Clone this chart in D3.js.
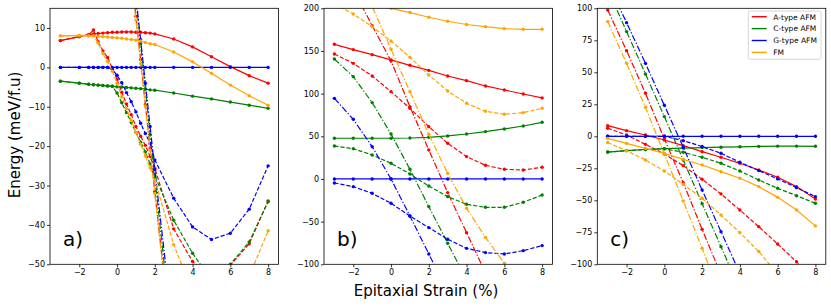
<!DOCTYPE html>
<html>
<head>
<meta charset="utf-8">
<script src="https://cdn.jsdelivr.net/npm/d3@7"></script>
<style>
  body { margin: 0; background: #fff; }
  text { font-family: "DejaVu Sans", sans-serif; }
</style>
</head>
<body>
<div id="chart"></div>
<script>
// strain values (x) for each panel
const strainA = [-3, -2, -1.5, -1.25, -1, -0.75, -0.5, -0.25, 0, 0.25, 0.5, 0.75, 1, 1.25, 1.5, 1.75, 2, 3, 4, 5, 6, 7, 8];
const strainBC = [-3, -2, -1, 0, 1, 2, 3, 4, 5, 6, 7, 8];

const orders = ['A-type AFM', 'C-type AFM', 'G-type AFM', 'FM'];
const colors = ['#ff0000', '#008000', '#0000ff', '#ffa500'];
const styles = ['solid', 'dashed', 'dashdot'];

// panel a) -- rows: A, C, G, FM
const aSolid = [
  [6.8, 7.8, 8.3, 8.5, 8.6, 8.7, 8.8, 8.9, 8.9, 9.0, 9.0, 9.0, 8.9, 8.9, 8.8, 8.7, 8.5, 7.2, 5.2, 2.7, 0.2, -2.1, -4.0],
  [-3.5, -4.0, -4.3, -4.4, -4.5, -4.6, -4.7, -4.8, -4.9, -5.0, -5.1, -5.2, -5.3, -5.4, -5.5, -5.7, -5.8, -6.5, -7.3, -8.0, -8.8, -9.6, -10.4],
  [0, 0, 0, 0, 0, 0, 0, 0, 0, 0, 0, 0, 0, 0, 0, 0, 0, 0, 0, 0, 0, 0, 0],
  [8.0, 8.1, 8.0, 8.0, 7.9, 7.8, 7.7, 7.6, 7.5, 7.4, 7.2, 7.1, 6.9, 6.7, 6.3, 6.0, 5.8, 3.9, 1.4, -1.5, -4.5, -7.2, -9.6]
];
const aDashed = [
  [6.8, 7.8, 8.3, 9.5, 6.5, 4.2, 2.5, -0.2, -3.0, -6.3, -9.3, -12, -15, -17.5, -19.8, -22.6, -25.6, -41.0, -49.3, -53.5, -50.2, -44.8, -33.9],
  [-3.5, -4.0, -4.3, -4.4, -4.5, -4.6, -4.7, -4.8, -6.5, -9, -11.5, -14, -16.5, -19, -21.5, -24.5, -27.5, -38.8, -47.2, -54, -50, -44.3, -34.1],
  [0, 0, 0, 0, 0, 0, 0, -0.5, -2.0, -3.9, -6.4, -8.7, -11.3, -14.2, -16.8, -19.3, -23.5, -33.2, -40.5, -43.7, -42.1, -36, -25],
  [8.0, 8.1, 8.0, 8.0, 6.2, 3.5, 1.5, -1.0, -4.0, -7.5, -10.5, -13.5, -16.5, -19.5, -22.5, -25.5, -28.5, -45, -57, -62, -60, -53, -41.5]
];
const aDashdot = [
  [null, null, null, null, null, null, null, null, null, null, null, 24, 13, 2, -9.5, -20.5, -31.5, -75, null, null, null, null, null],
  [null, null, null, null, null, null, null, null, null, null, null, 28, 17, 6, -5.5, -17, -28, -72, null, null, null, null, null],
  [null, null, null, null, null, null, null, null, null, null, null, 29, 18, 7, -4, -15, -26, -68, null, null, null, null, null],
  [null, null, null, null, null, null, null, null, null, null, null, 23, 12, 1, -10, -21, -32, -76, null, null, null, null, null]
];

// panel b)
const bSolid = [
  [157.8, 151.6, 145.7, 139.5, 133.2, 127.3, 120.7, 115.2, 109, 104.3, 99.6, 95],
  [47.7, 47.7, 47.7, 47.7, 48, 48.8, 50.4, 52.7, 55.5, 58.6, 62.1, 66.4],
  [0, 0, 0, 0, 0, 0, 0, 0, 0, 0, 0, 0],
  [224, 215, 207, 200, 195, 189.5, 184.8, 181, 178.5, 176.2, 175.4, 175.4]
];
const bDashed = [
  [146.5, 135.5, 120.7, 102.3, 82.8, 61.3, 41.8, 26.2, 16, 11.3, 10.5, 13.7],
  [38.7, 35.5, 28.1, 18.4, 5.9, -8.2, -20.7, -29.7, -33.2, -33.2, -27.3, -18.8],
  [-4.7, -9, -16.8, -28.5, -43.4, -57, -70.7, -81.3, -86.3, -87.9, -84, -78.1],
  [205, 193.4, 178.5, 161.7, 142.6, 121.9, 103.1, 88.7, 79.3, 75.8, 77.7, 82.8]
];
const bDashdot = [
  [264, 222, 179.7, 138.3, 84.8, 34, -16, -62.9, -110, null, null, null],
  [140.6, 119.9, 89.5, 52.7, 11.3, -32.4, -75.4, -118, null, null, null, null],
  [94.5, 69.9, 37.9, 0, -43.4, -87.9, -132, null, null, null, null, null],
  [300, 252, 202, 152, 102.3, 52.3, 6.6, -34.4, -68.4, -98.8, -125, null]
];

// panel c)
const cSolid = [
  [8.3, 4.4, 1.0, -2.9, -7.3, -12, -16.4, -21.1, -26.3, -32, -39.3, -49],
  [-12.3, -11.2, -10.3, -9.7, -9.2, -8.8, -8.5, -8.2, -7.9, -7.7, -7.7, -7.8],
  [0, 0, 0, 0, 0, 0, 0, 0, 0, 0, 0, 0],
  [-1.6, -5.5, -9.4, -13.3, -18, -22.4, -27.6, -32.8, -39.3, -47.7, -57.6, -70]
];
const cDashed = [
  [6.3, 1, -6.3, -13.8, -22.9, -33.6, -45, -57.6, -70.6, -84.1, -98, -112],
  [-12.3, -11.2, -10.3, -9.7, -12.5, -16.4, -21.1, -27.1, -34.1, -40.6, -46.4, -52.3],
  [0, 0, 0, 0, -3.4, -8, -13.3, -20.3, -26.8, -33.3, -40.1, -47.1],
  [-4.9, -11.2, -18.5, -27.1, -37.5, -48.4, -61.5, -75.3, -90, -108, -125, null]
];
const cDashdot = [
  [98.7, 66.9, 33.6, -2, -36.2, -72.7, -108, null, null, null, null, null],
  [115, 81.8, 48.7, 15.4, -18.5, -52.6, -86.2, -120, null, null, null, null],
  [120, 88.8, 57, 24.2, -8.5, -42, -74.5, -107, null, null, null, null],
  [89.6, 57, 22.7, -14, -50.5, -87.5, -125, null, null, null, null, null]
];

const ticksA = [-50, -40, -30, -20, -10, 0, 10];
const ticksB = [-100, -50, 0, 50, 100, 150, 200];
const ticksC = [-100, -75, -50, -25, 0, 25, 50, 75, 100];
const ticksX = [-2, 0, 2, 4, 6, 8];

const width = 831, height = 307;
const plotTop = 8.3, plotBottom = 264.3, plotW = 228.5;

const panels = [
  { label: 'a)', x0: 50, yDomain: [-50, 15], yTicks: ticksA, strain: strainA, data: [aSolid, aDashed, aDashdot] },
  { label: 'b)', x0: 324, yDomain: [-100, 200], yTicks: ticksB, strain: strainBC, data: [bSolid, bDashed, bDashdot] },
  { label: 'c)', x0: 597.3, yDomain: [-100, 100], yTicks: ticksC, strain: strainBC, data: [cSolid, cDashed, cDashdot] }
];

const dashes = { solid: null, dashed: '4.2,1.9', dashdot: '6.5,1.9,1.3,1.9' };
const fmt = d => d < 0 ? '\u2212' + Math.abs(d) : String(d);

const svg = d3.select('#chart')
  .append('svg')
  .attr('width', width)
  .attr('height', height);

panels.forEach((p, pi) => {
  const x = d3.scaleLinear().domain([-3.55, 8.55]).range([p.x0, p.x0 + plotW]);
  const y = d3.scaleLinear().domain(p.yDomain).range([plotBottom, plotTop]);

  svg.append('clipPath').attr('id', 'clip' + pi)
    .append('rect')
    .attr('x', p.x0).attr('y', plotTop)
    .attr('width', plotW).attr('height', plotBottom - plotTop);

  const plot = svg.append('g').attr('clip-path', `url(#clip${pi})`);

  const line = d3.line().x(d => x(d[0])).y(d => y(d[1]));

  colors.forEach((col, ci) => {
    styles.forEach((st, si) => {
      const vals = p.data[si][ci];
      const pts = p.strain.map((s, i) => [s, vals[i]]).filter(d => d[1] != null);
      plot.append('path')
        .datum(pts)
        .attr('d', line)
        .attr('fill', 'none')
        .attr('stroke', col)
        .attr('stroke-width', 1.2)
        .attr('stroke-dasharray', dashes[st]);
      plot.append('g')
        .selectAll('circle')
        .data(pts)
        .join('circle')
          .attr('cx', d => x(d[0]))
          .attr('cy', d => y(d[1]))
          .attr('r', 1.7)
          .attr('fill', col);
    });
  });

  // axes
  const gx = svg.append('g')
    .attr('transform', `translate(0,${plotBottom})`)
    .call(d3.axisBottom(x).tickValues(ticksX).tickSize(3).tickPadding(2).tickFormat(fmt));
  const gy = svg.append('g')
    .attr('transform', `translate(${p.x0},0)`)
    .call(d3.axisLeft(y).tickValues(p.yTicks).tickSize(3).tickPadding(2).tickFormat(fmt));
  [gx, gy].forEach(g => {
    g.select('.domain').remove();
    g.selectAll('text').attr('font-size', '8px').attr('font-family', '"DejaVu Sans", sans-serif').attr('fill', '#000');
    g.selectAll('line').attr('stroke', '#000').attr('stroke-width', 0.8);
  });

  svg.append('rect')
    .attr('x', p.x0).attr('y', plotTop)
    .attr('width', plotW).attr('height', plotBottom - plotTop)
    .attr('fill', 'none')
    .attr('stroke', '#000')
    .attr('stroke-width', 0.8);

  svg.append('text')
    .attr('x', p.x0 + 13)
    .attr('y', 245.5)
    .attr('font-size', '20px')
    .text(p.label);

  // legend in the last panel
  if (pi === 2) {
    const lg = svg.append('g');
    lg.append('rect')
      .attr('x', 748.3).attr('y', 11)
      .attr('width', 72.7).attr('height', 48.3)
      .attr('rx', 2)
      .attr('fill', '#fff')
      .attr('fill-opacity', 0.8)
      .attr('stroke', '#ccc')
      .attr('stroke-width', 0.8);
    orders.forEach((name, i) => {
      const ly = 16.7 + i * 11.9;
      lg.append('line')
        .attr('x1', 751.7).attr('x2', 766.7)
        .attr('y1', ly).attr('y2', ly)
        .attr('stroke', colors[i])
        .attr('stroke-width', 1.4);
      lg.append('text')
        .attr('x', 773.3)
        .attr('y', ly + 2.8)
        .attr('font-size', '7.5px')
        .attr('fill', '#000')
        .text(name);
    });
  }
});

svg.append('text')
  .attr('transform', 'translate(20,135) rotate(-90)')
  .attr('text-anchor', 'middle')
  .attr('font-size', '15px')
  .text('Energy (meV/f.u)');

svg.append('text')
  .attr('x', 426)
  .attr('y', 296)
  .attr('text-anchor', 'middle')
  .attr('font-size', '15px')
  .text('Epitaxial Strain (%)');
</script>
</body>
</html>
